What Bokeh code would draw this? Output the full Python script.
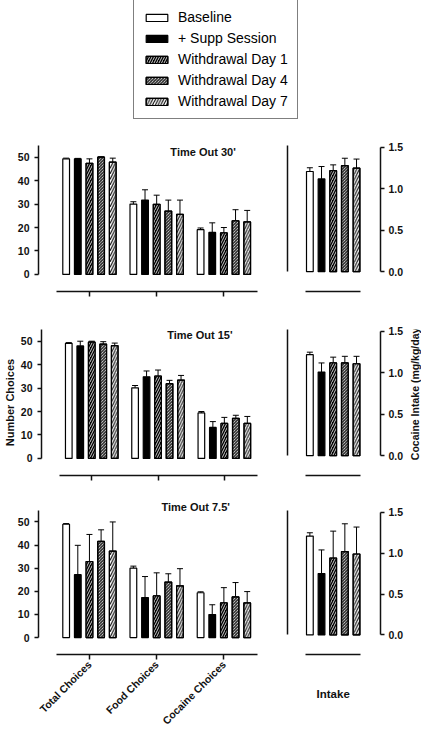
import numpy as np
from bokeh.plotting import figure
from bokeh.models import (Range1d, FixedTicker, LinearAxis, Label, Legend, LegendItem,
                          ColumnDataSource, Whisker, TeeHead, NumeralTickFormatter)
from bokeh.layouts import column, row
from bokeh.embed import file_html
from bokeh.resources import INLINE

# ---------------- data ----------------
series_names = ["Baseline", "+ Supp Session", "Withdrawal Day 1", "Withdrawal Day 4", "Withdrawal Day 7"]
categories = ["Total Choices", "Food Choices", "Cocaine Choices"]
intake_category = ["Intake"]
panel_titles = ["Time Out 30'", "Time Out 15'", "Time Out 7.5'"]
choice_ticks = [0, 10, 20, 30, 40, 50]
intake_ticks = [0.0, 0.5, 1.0, 1.5]
ylabel_left = "Number Choices"
ylabel_right = "Cocaine Intake (mg/kg/day)"

# rows = series, columns = Total, Food, Cocaine
choices_to30 = [[49.3, 30.0, 19.1], [49.3, 31.7, 17.9], [47.4, 29.9, 17.7], [50.0, 27.0, 22.9], [47.9, 25.6, 22.4]]
choices_to30_sem = [[0.3, 1.0, 0.7], [0.2, 4.4, 4.1], [1.9, 3.9, 2.3], [0.2, 4.7, 4.7], [1.7, 6.1, 4.9]]
intake_to30 = [1.21, 1.12, 1.22, 1.28, 1.25]
intake_to30_sem = [0.045, 0.15, 0.07, 0.09, 0.11]

choices_to15 = [[49.1, 30.1, 19.4], [48.0, 34.8, 13.2], [49.6, 35.1, 14.9], [48.8, 31.9, 17.1], [48.1, 33.4, 14.9]]
choices_to15_sem = [[0.3, 1.0, 0.6], [2.0, 2.5, 2.5], [0.4, 2.6, 2.6], [1.0, 1.4, 1.3], [1.1, 2.0, 3.0]]
intake_to15 = [1.22, 1.01, 1.12, 1.12, 1.11]
intake_to15_sem = [0.03, 0.11, 0.07, 0.08, 0.09]

choices_to75 = [[49.0, 30.0, 19.4], [27.2, 17.3, 10.0], [32.9, 18.0, 15.0], [41.6, 24.0, 17.6], [37.4, 22.4, 15.0]]
choices_to75_sem = [[0.3, 0.9, 0.4], [12.7, 9.1, 4.2], [11.7, 10.0, 6.6], [5.0, 3.6, 6.2], [12.6, 7.4, 4.9]]
intake_to75 = [1.21, 0.75, 0.94, 1.02, 0.99]
intake_to75_sem = [0.04, 0.29, 0.33, 0.34, 0.33]

# ---------------- style ----------------
FONT = "Liberation Sans"
AX = "#111111"
BAR_STEP = 0.1733
BAR_W = 0.1
# each series drawn as one or more stacked layers (fill first, hatch on top)
series_layers = [
    [dict(fill_color="white")],
    [dict(fill_color="black")],
    [dict(fill_color="black"),
     dict(fill_alpha=0, hatch_pattern="/", hatch_color="white", hatch_scale=5, hatch_weight=0.8)],
    [dict(fill_color="white"),
     dict(fill_alpha=0, hatch_pattern="\\", hatch_color="black", hatch_scale=3, hatch_weight=1.0)],
    [dict(fill_color="white"),
     dict(fill_alpha=0, hatch_pattern="/", hatch_color="black", hatch_scale=5.5, hatch_weight=1.1)],
]

LEFT_W, RIGHT_W, LAB_W = 272, 149, 14
LEFT_YR = (-7.3, 55)
RIGHT_YR = (-0.24, 1.524)
FRAME_H = 146
RIGHT_LABEL_CENTER = 0.72


def style_axis(ax):
    ax.axis_line_color = AX
    ax.axis_line_width = 1.5
    ax.major_tick_line_color = AX
    ax.major_tick_line_width = 1.5
    ax.minor_tick_line_color = None
    ax.major_tick_in = 0
    ax.major_label_text_font = FONT
    ax.major_label_text_font_style = "bold"
    ax.major_label_text_font_size = "10.5px"
    ax.major_label_text_color = AX
    ax.axis_label_text_font = FONT
    ax.axis_label_text_font_style = "bold"
    ax.axis_label_text_font_size = "11px"
    ax.axis_label_text_color = AX


def base_fig(width, height, xr, yr, mbl, mbr, mbt, mbb):
    p = figure(width=width, height=height, x_range=xr, y_range=yr,
               output_backend="svg", toolbar_location=None,
               min_border_left=mbl, min_border_right=mbr,
               min_border_top=mbt, min_border_bottom=mbb)
    p.outline_line_color = None
    p.xgrid.visible = False
    p.ygrid.visible = False
    p.background_fill_color = "white"
    p.border_fill_color = "white"
    return p


def draw_series(p, s, x, top):
    rs = []
    for layer in series_layers[s]:
        rs.append(p.vbar(x=x, top=top, bottom=0, width=BAR_W, line_color="black",
                         line_width=1.2, **layer))
    return rs


def add_whiskers(p, xs, lows, ups):
    src = ColumnDataSource(dict(x=xs, lower=lows, upper=ups))
    w = Whisker(source=src, base="x", lower="lower", upper="upper",
                line_color="black", line_width=1,
                upper_head=TeeHead(size=6, line_color="black", line_width=1),
                lower_head=None)
    p.add_layout(w)


def left_panel(title, title_xy, means, sems, bottom, ylabel, height, mbt, mbb, ytop):
    p = base_fig(LEFT_W, height, Range1d(-0.758, 2.5), Range1d(LEFT_YR[0], ytop), 38, 15, mbt, mbb)
    cat_idx = np.arange(len(categories))
    xs, lows, ups = [], [], []
    for s in range(len(series_names)):
        x = cat_idx + (s - 2) * BAR_STEP
        top = np.array(means[s])
        draw_series(p, s, x, top)
        xs += list(x)
        lows += list(top)
        ups += list(top + np.array(sems[s]))
    add_whiskers(p, xs, lows, ups)

    ya = p.yaxis[0]
    style_axis(ya)
    ya.ticker = FixedTicker(ticks=choice_ticks)
    ya.bounds = (0, LEFT_YR[1])
    ya.major_tick_out = 4
    ya.major_label_standoff = 5
    ya.axis_label_standoff = 2
    if ylabel:
        ya.axis_label = ylabel

    xa = p.xaxis[0]
    style_axis(xa)
    xa.ticker = FixedTicker(ticks=list(cat_idx))
    xa.bounds = (-0.49, 2.5)
    xa.major_tick_out = 5
    if bottom:
        xa.major_label_overrides = {i: c for i, c in enumerate(categories)}
        xa.major_label_orientation = np.pi / 4
        xa.major_label_text_font_size = "10.5px"
        xa.major_label_standoff = 3
    else:
        xa.major_label_overrides = {i: "" for i in range(len(categories))}

    p.add_layout(Label(x=title_xy[0], y=title_xy[1], text=title, text_align="center",
                       text_baseline="middle", text_font=FONT, text_font_style="bold",
                       text_font_size="11px", text_color=AX))
    return p


def right_panel(means, sems, bottom, width, height, mbt, mbb, yr):
    p = base_fig(width, height, Range1d(-0.679, 0.703), yr, 15, width - 15 - 93, mbt, mbb)
    xs, lows, ups = [], [], []
    for s in range(len(series_names)):
        x = np.array([(s - 2) * BAR_STEP])
        top = np.array([means[s]])
        draw_series(p, s, x, top)
        xs += list(x)
        lows += list(top)
        ups += list(top + np.array([sems[s]]))
    add_whiskers(p, xs, lows, ups)

    la = p.yaxis[0]
    style_axis(la)
    la.ticker = FixedTicker(ticks=[])
    la.bounds = (0, RIGHT_YR[1])
    la.major_tick_out = 0

    ra = LinearAxis(ticker=FixedTicker(ticks=intake_ticks),
                    formatter=NumeralTickFormatter(format="0.0"), bounds=(0, 1.5))
    style_axis(ra)
    ra.major_tick_out = 4
    ra.major_label_standoff = 4
    p.add_layout(ra, "right")

    xa = p.xaxis[0]
    style_axis(xa)
    xa.ticker = FixedTicker(ticks=[0])
    xa.bounds = (-0.41, 0.405)
    xa.major_tick_out = 0
    xa.major_label_text_font_size = "11.5px"
    if bottom:
        xa.major_label_overrides = {0: intake_category[0]}
        xa.major_label_standoff = 33
    else:
        xa.major_label_overrides = {0: ""}
    return p


def label_strip(text, height, mbt, mbb):
    # strip spanning the full row height, with y units matching the intake axis
    scale = FRAME_H / (RIGHT_YR[1] - RIGHT_YR[0])
    yr = Range1d(RIGHT_YR[0] - mbb / scale, RIGHT_YR[1] + mbt / scale)
    p = figure(width=LAB_W, height=height, x_range=Range1d(0, 1), y_range=yr,
               output_backend="svg", toolbar_location=None, min_border=0,
               x_axis_location=None, y_axis_location=None)
    p.outline_line_color = None
    p.xgrid.visible = False
    p.ygrid.visible = False
    p.add_layout(Label(x=0.5, y=RIGHT_LABEL_CENTER, text=text, angle=np.pi / 2, text_align="center",
                       text_baseline="middle", text_font=FONT, text_font_style="bold",
                       text_font_size="10.5px", text_color=AX))
    return p


# ---------------- legend ----------------
LEG_H = 130
lg = figure(width=LEFT_W + RIGHT_W, height=LEG_H, x_range=Range1d(0, 1), y_range=Range1d(0, 1),
            output_backend="svg", toolbar_location=None, min_border=0,
            x_axis_location=None, y_axis_location=None)
lg.outline_line_color = None
lg.xgrid.visible = False
lg.ygrid.visible = False
items = []
for s, name in enumerate(series_names):
    rs = draw_series(lg, s, [np.nan], [np.nan])
    items.append(LegendItem(label=name, renderers=rs))
legend = Legend(items=items, location=(133, LEG_H - 1 - 118), border_line_color="black",
                border_line_width=1.5, padding=9, spacing=5, label_height=16,
                glyph_width=27, glyph_height=9, label_standoff=8, margin=0,
                label_text_font=FONT, label_text_font_size="14px",
                label_text_color="black", background_fill_color="white",
                background_fill_alpha=1.0)
lg.add_layout(legend)

# ---------------- panels ----------------
# extra headroom (px) in the bottom row so its title sits above the axis top
HEAD = 9
ytop_l3 = LEFT_YR[1] + HEAD / (FRAME_H / (LEFT_YR[1] - LEFT_YR[0]))
ytop_r3 = RIGHT_YR[1] + HEAD / (FRAME_H / (RIGHT_YR[1] - RIGHT_YR[0]))

l1 = left_panel(panel_titles[0], (1.69, 52.1), choices_to30, choices_to30_sem, False, None, 187, 15, 26, LEFT_YR[1])
r1 = right_panel(intake_to30, intake_to30_sem, False, RIGHT_W, 187, 15, 26, Range1d(*RIGHT_YR))

l2 = left_panel(panel_titles[1], (1.63, 52.6), choices_to15, choices_to15_sem, False, ylabel_left, 183, 12, 25, LEFT_YR[1])
r2 = right_panel(intake_to15, intake_to15_sem, False, RIGHT_W - LAB_W, 183, 12, 25, Range1d(*RIGHT_YR))
s2 = label_strip(ylabel_right, 183, 12, 25)

l3 = left_panel(panel_titles[2], (1.58, 56.6), choices_to75, choices_to75_sem, True, None, 233, 1, 77, ytop_l3)
r3 = right_panel(intake_to75, intake_to75_sem, True, RIGHT_W, 233, 1, 77, Range1d(RIGHT_YR[0], ytop_r3))

layout = column(lg, row(l1, r1), row(l2, r2, s2), row(l3, r3))

open("out.html", "w").write(file_html(layout, INLINE))
